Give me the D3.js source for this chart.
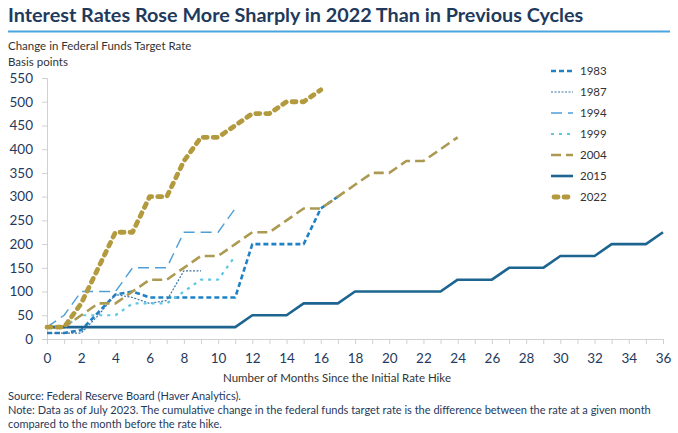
<!DOCTYPE html>
<html>
<head>
<meta charset="utf-8">
<script src="https://cdn.jsdelivr.net/npm/d3@7"></script>
<style>
  body { margin: 0; background: #fff; }
  svg { display: block; font-family: Lato, "Open Sans", sans-serif; }
</style>
</head>
<body>
<svg id="chart"></svg>
<script>
// monthly change in target rate (bp), month 0 = first hike
const months = d3.range(0, 37);
const s1983 = [12.5, 12.5, 18.75, 56.25, 93.75, 100, 87.5, 87.5, 87.5, 87.5, 87.5, 87.5, 200, 200, 200, 200, 275, 300];
const s1987 = [12.5, 12.5, 12.5, 50, 93.75, 87.5, 75, 81.25, 143.75, 143.75];
const s1994 = [25, 50, 100, 100, 100, 150, 150, 150, 225, 225, 225, 275];
const s1999 = [25, 25, 50, 50, 50, 75, 75, 75, 100, 125, 125, 175];
const s2004 = [25, 25, 50, 75, 75, 100, 125, 125, 150, 175, 175, 200, 225, 225, 250, 275, 275, 300, 325, 350, 350, 375, 375, 400, 425];
const s2015 = [25, 25, 25, 25, 25, 25, 25, 25, 25, 25, 25, 25, 50, 50, 50, 75, 75, 75, 100, 100, 100, 100, 100, 100, 125, 125, 125, 150, 150, 150, 175, 175, 175, 200, 200, 200, 225];
const s2022 = [25, 25, 75, 150, 225, 225, 300, 300, 375, 425, 425, 450, 475, 475, 500, 500, 525];
const yTicks = d3.range(0, 551, 50);
const xTickLabels = d3.range(0, 37, 2);

const series = [
  { name: "1983", values: s1983, color: "#1f82c4", width: 2.6, dash: "5,3", cap: "butt" },
  { name: "1987", values: s1987, color: "#3f74a3", width: 1.2, dash: "2,1.5", cap: "butt" },
  { name: "1994", values: s1994, color: "#4f9fd6", width: 1.4, dash: "11,6", cap: "butt" },
  { name: "1999", values: s1999, color: "#5cc6e4", width: 2.2, dash: "3,5", cap: "butt" },
  { name: "2004", values: s2004, color: "#ad9a52", width: 2.6, dash: "10,5", cap: "butt" },
  { name: "2015", values: s2015, color: "#1d6590", width: 2.6, dash: null, cap: "butt" },
  { name: "2022", values: s2022, color: "#b39a3f", width: 4.8, dash: "4,6", cap: "round" }
];

const W = 678, H = 433;
const svg = d3.select("#chart").attr("width", W).attr("height", H);
const navy = "#1f3a5c";

// title
svg.append("text").attr("x", 8).attr("y", 22).attr("font-size", 19.8).attr("font-weight", 700)
  .attr("fill", navy).text("Interest Rates Rose More Sharply in 2022 Than in Previous Cycles");
svg.append("line").attr("x1", 8).attr("x2", 670).attr("y1", 31.5).attr("y2", 31.5)
  .attr("stroke", "#4aa5de").attr("stroke-width", 2);

svg.append("text").attr("x", 8).attr("y", 50).attr("font-size", 11.5).attr("fill", "#333")
  .text("Change in Federal Funds Target Rate");
svg.append("text").attr("x", 8).attr("y", 66).attr("font-size", 11.5).attr("fill", "#333")
  .text("Basis points");

const x = d3.scaleLinear().domain([0, 36]).range([47, 663]);
const y = d3.scaleLinear().domain([0, 550]).range([339, 78]);

// y axis
const yAxis = svg.append("g").attr("transform", "translate(47,0)")
  .call(d3.axisLeft(y).tickValues(yTicks).tickSize(5).tickPadding(9));
yAxis.select(".domain").attr("stroke", "#d0d0d0");
yAxis.selectAll(".tick line").attr("stroke", "#d0d0d0");
yAxis.selectAll("text").attr("font-size", 13.5).attr("fill", navy).attr("font-family", "Lato, sans-serif");

// x axis
const xAxis = svg.append("g").attr("transform", "translate(0,339)")
  .call(d3.axisBottom(x).tickValues(months).tickSize(5).tickFormat(d => xTickLabels.includes(d) ? d : "").tickPadding(9));
xAxis.select(".domain").attr("stroke", "#d0d0d0");
xAxis.selectAll(".tick line").attr("stroke", "#d0d0d0");
xAxis.selectAll("text").attr("font-size", 13.5).attr("fill", navy).attr("font-family", "Lato, sans-serif");

svg.append("text").attr("x", 337).attr("y", 382).attr("text-anchor", "middle")
  .attr("font-size", 11.5).attr("fill", "#333").text("Number of Months Since the Initial Rate Hike");

// lines
const line = d3.line().x((d, i) => x(i)).y(d => y(d));
svg.append("g").selectAll("path").data(series).enter().append("path")
  .attr("d", d => line(d.values))
  .attr("fill", "none")
  .attr("stroke", d => d.color)
  .attr("stroke-width", d => d.width)
  .attr("stroke-dasharray", d => d.dash)
  .attr("stroke-linecap", d => d.cap)
  .attr("stroke-linejoin", "round");

// legend
const lg = svg.append("g").attr("transform", "translate(551,71)");
const row = lg.selectAll("g").data(series).enter().append("g")
  .attr("transform", (d, i) => `translate(0,${i * 21})`);
row.append("line").attr("x1", d => d.cap === "round" ? 3 : 0).attr("x2", d => d.cap === "round" ? 19 : 22)
  .attr("y1", 0).attr("y2", 0)
  .attr("stroke", d => d.color).attr("stroke-width", d => d.width)
  .attr("stroke-dasharray", d => d.dash).attr("stroke-linecap", d => d.cap);
row.append("text").attr("x", 29).attr("y", 4).attr("font-size", 11.5).attr("fill", "#333").text(d => d.name);

// notes
const notes = [
  "Source: Federal Reserve Board (Haver Analytics).",
  "Note: Data as of July 2023. The cumulative change in the federal funds target rate is the difference between the rate at a given month",
  "compared to the month before the rate hike."
];
svg.append("g").selectAll("text").data(notes).enter().append("text")
  .attr("x", 8).attr("y", (d, i) => 400 + i * 14).attr("font-size", 11).attr("fill", navy).text(d => d);
</script>
</body>
</html>
